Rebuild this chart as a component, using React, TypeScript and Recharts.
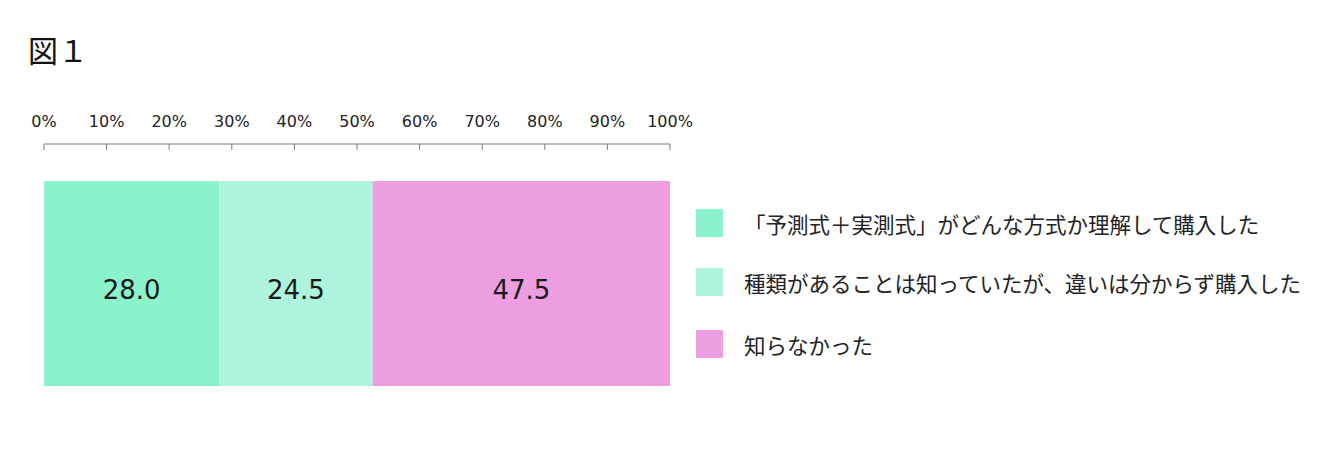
import React from 'react';
import { BarChart, Bar, XAxis, YAxis, LabelList } from 'recharts';

const categories = ['回答'];
const seriesNames = [
    '「予測式＋実測式」がどんな方式か理解して購入した',
    '種類があることは知っていたが、違いは分からず購入した',
    '知らなかった',
];
const seriesValues = [28.0, 24.5, 47.5];
const seriesColors = ['#8af3cc', '#aef3de', '#ec9ee0'];
const tickValues = [0, 10, 20, 30, 40, 50, 60, 70, 80, 90, 100];

const data = categories.map((name) => {
    const row: Record<string, string | number> = { name };
    seriesValues.forEach((v, i) => { row[`s${i}`] = v; });
    return row;
});

const AxisTick = (props: any) => {
    const { x, y, payload } = props;
    return (
        <g>
            <text x={x} y={y} textAnchor="middle" fontFamily="'DejaVu Sans', sans-serif" fontSize={16} fill="#222">
                {payload.value}%
            </text>
            <line x1={x} x2={x} y1={y + 17} y2={y + 23} stroke="#7a7a7a" />
        </g>
    );
};

// legend drawn beside the plot so it does not eat into the bar height
const LegendBox = () => (
    <div style={{ position: 'absolute', left: 696, top: 209 }}>
        {seriesNames.map((name, i) => (
            <div key={name} style={{ display: 'flex', alignItems: 'center', height: 28, marginTop: i === 0 ? 0 : i === 1 ? 31 : 34 }}>
                <span style={{ width: 27, height: 28, background: seriesColors[i], display: 'inline-block' }} />
                <span style={{ marginLeft: 21, fontSize: 21.5, color: '#222', fontFamily: "'Noto Sans CJK JP', sans-serif", whiteSpace: 'nowrap' }}>
                    {name}
                </span>
            </div>
        ))}
    </div>
);

const App: React.FC = () => {
    return (
        <div style={{ position: 'absolute', left: 0, top: 0, width: 1340, height: 450, background: '#fff' }}>
            <BarChart
                width={1340}
                height={450}
                data={data}
                layout="vertical"
                margin={{ top: 114, right: 670, bottom: 27, left: 44 }}
            >
                <XAxis
                    type="number"
                    orientation="top"
                    domain={[0, 100]}
                    ticks={tickValues}
                    interval={0}
                    height={30}
                    tickSize={6}
                    tickMargin={11}
                    tickLine={false}
                    axisLine={{ stroke: '#7a7a7a' }}
                    tick={<AxisTick />}
                />
                <YAxis type="category" dataKey="name" hide />
                {seriesNames.map((name, i) => (
                    <Bar
                        key={name}
                        dataKey={`s${i}`}
                        name={name}
                        stackId="a"
                        fill={seriesColors[i]}
                        barSize={205}
                        isAnimationActive={false}
                    >
                        <LabelList
                            dataKey={`s${i}`}
                            position="center"
                            formatter={(v: any) => Number(v).toFixed(1)}
                            fill="#1a1a1a"
                            fontSize={26}
                            dy={6}
                            fontFamily="'DejaVu Sans', sans-serif"
                        />
                    </Bar>
                ))}
            </BarChart>
            <div style={{ position: 'absolute', left: 28, top: 27, fontSize: 30, color: '#111', fontFamily: "'Noto Sans CJK JP', serif", fontWeight: 400 }}>
                図１
            </div>
            <LegendBox />
        </div>
    );
};

export default App;
